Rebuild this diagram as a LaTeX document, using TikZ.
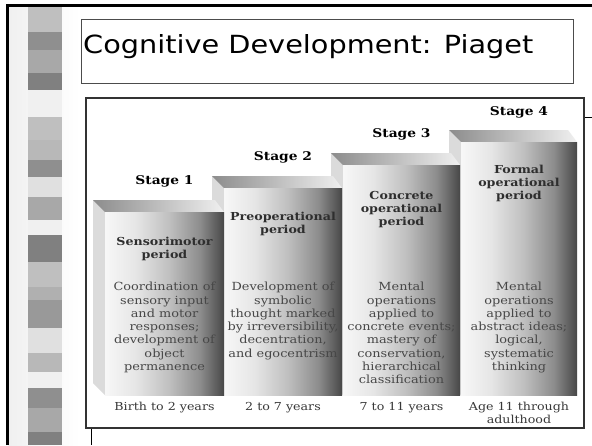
\documentclass[tikz,border=0pt]{standalone}
\usepackage{fontspec}
\setmainfont{DejaVu Serif}[FakeStretch=1.15]
\newfontfamily\titlefont{DejaVu Sans}[FakeStretch=1.15]
\usetikzlibrary{calc}
\colorlet{PillarLight}{black!3}
\colorlet{PillarDark}{black!72}
\colorlet{CapDark}{black!45}
\colorlet{CapLight}{black!6}
\colorlet{BevelFill}{black!14}
\colorlet{DescText}{black!72}
\colorlet{PeriodText}{black!82}
\colorlet{AgeText}{black!78}
\colorlet{FrameLine}{black!80}
\pgfdeclarehorizontalshading{pillarface}{100bp}{color(0bp)=(PillarLight); color(25bp)=(PillarLight);
  color(38bp)=(black!10); color(52bp)=(black!25); color(65bp)=(black!45); color(75bp)=(PillarDark);
  color(100bp)=(PillarDark)}

\tikzset{
  stagelabel/.style={font=\bfseries\fontsize{12}{14}\selectfont, inner sep=0pt},
  periodlabel/.style={font=\bfseries\fontsize{11}{13}\selectfont, text=PeriodText,
    align=center, anchor=north, inner sep=0pt},
  desclabel/.style={font=\fontsize{11.2}{13.3}\selectfont, text=DescText,
    align=center, anchor=north, inner sep=0pt},
  agelabel/.style={font=\fontsize{11}{13}\selectfont, text=AgeText,
    align=center, anchor=north, inner sep=0pt},
}

\begin{document}
\begin{tikzpicture}[x=1pt, y=-1pt]

    \useasboundingbox[fill=white] (0, 0) rectangle (592, 445);

    \def\pillarBottom{395}
    \def\depth{12}

    % ---------- Slide decoration

    \shade[left color=black!6, middle color=black!22, right color=white] (8, 6) rectangle (80, 445);
    \foreach \yA/\yB/\shadeLevel in {6/32/25, 32/50/44, 50/73/34, 73/90/50, 90/117/6,
        117/140/25, 140/160/28, 160/177/44, 177/197/12, 197/220/34, 220/235/6,
        235/262/50, 262/287/25, 287/300/31, 300/328/40, 328/353/12, 353/372/28,
        372/388/6, 388/408/44, 408/432/34, 432/445/50}
      \fill[black!\shadeLevel] (28, \yA) rectangle (62, \yB);
    \draw[line width=2.4pt] (7.5, 445) -- (7.5, 5.3) -- (592, 5.3);

    % Title box
    \draw[black!70, line width=0.8pt, fill=white] (81, 19) rectangle (573, 83);
    \node[font=\titlefont\fontsize{25}{30}\selectfont, anchor=base west, inner sep=0pt]
      (title) at (83, 53) {Cognitive Development: Piaget};

    % Picture frame
    \draw[black, line width=0.6pt] (584, 117.5) -- (592, 117.5);
    \draw[black, line width=0.6pt] (91.5, 428) -- (91.5, 445);
    \draw[FrameLine, line width=1.2pt, fill=white] (86, 98) rectangle (584, 428);

    % ---------- Stage 4

    \coordinate (sFourTL) at (461, 142);
    \coordinate (sFourBR) at (577, \pillarBottom);
    \coordinate (sFourTR) at (sFourBR |- sFourTL);
    \coordinate (sFourBL) at (sFourTL |- sFourBR);
    \fill[BevelFill] ($(sFourTL) + (-\depth, -\depth)$) -- (sFourTL) -- (sFourBL)
      -- ($(sFourBL) + (-\depth, -\depth)$) -- cycle;
    \shade[left color=CapDark, right color=CapLight] ($(sFourTL) + (-\depth, -\depth)$)
      -- ($(sFourTR) + (-9, -\depth)$) -- (sFourTR) -- (sFourTL) -- cycle;
    \shade[shading=pillarface] (sFourTL) rectangle (sFourBR);

    % ---------- Stage 3

    \coordinate (sThreeTL) at (343, 165);
    \coordinate (sThreeBR) at (460, \pillarBottom);
    \coordinate (sThreeTR) at (sThreeBR |- sThreeTL);
    \coordinate (sThreeBL) at (sThreeTL |- sThreeBR);
    \fill[BevelFill] ($(sThreeTL) + (-\depth, -\depth)$) -- (sThreeTL) -- (sThreeBL)
      -- ($(sThreeBL) + (-\depth, -\depth)$) -- cycle;
    \shade[left color=CapDark, right color=CapLight] ($(sThreeTL) + (-\depth, -\depth)$)
      -- ($(sThreeTR) + (-9, -\depth)$) -- (sThreeTR) -- (sThreeTL) -- cycle;
    \shade[shading=pillarface] (sThreeTL) rectangle (sThreeBR);

    % ---------- Stage 2

    \coordinate (sTwoTL) at (224, 188);
    \coordinate (sTwoBR) at (342, \pillarBottom);
    \coordinate (sTwoTR) at (sTwoBR |- sTwoTL);
    \coordinate (sTwoBL) at (sTwoTL |- sTwoBR);
    \fill[BevelFill] ($(sTwoTL) + (-\depth, -\depth)$) -- (sTwoTL) -- (sTwoBL)
      -- ($(sTwoBL) + (-\depth, -\depth)$) -- cycle;
    \shade[left color=CapDark, right color=CapLight] ($(sTwoTL) + (-\depth, -\depth)$)
      -- ($(sTwoTR) + (-9, -\depth)$) -- (sTwoTR) -- (sTwoTL) -- cycle;
    \shade[shading=pillarface] (sTwoTL) rectangle (sTwoBR);

    % ---------- Stage 1

    \coordinate (sOneTL) at (105, 212);
    \coordinate (sOneBR) at (224, \pillarBottom);
    \coordinate (sOneTR) at (sOneBR |- sOneTL);
    \coordinate (sOneBL) at (sOneTL |- sOneBR);
    \fill[BevelFill] ($(sOneTL) + (-\depth, -\depth)$) -- (sOneTL) -- (sOneBL)
      -- ($(sOneBL) + (-\depth, -\depth)$) -- cycle;
    \shade[left color=CapDark, right color=CapLight] ($(sOneTL) + (-\depth, -\depth)$)
      -- ($(sOneTR) + (-9, -\depth)$) -- (sOneTR) -- (sOneTL) -- cycle;
    \shade[shading=pillarface] (sOneTL) rectangle (sOneBR);

    % Show labels
    \node[stagelabel] (stageOne) at ($(sOneTL)!0.5!(sOneTR) + (0, -31)$) {Stage 1};
    \node[stagelabel] (stageTwo) at ($(sTwoTL)!0.5!(sTwoTR) + (0, -31)$) {Stage 2};
    \node[stagelabel] (stageThree) at ($(sThreeTL)!0.5!(sThreeTR) + (0, -31)$) {Stage 3};
    \node[stagelabel] (stageFour) at ($(sFourTL)!0.5!(sFourTR) + (0, -30)$) {Stage 4};

    \node[periodlabel] (periodOne) at ($(sOneTL)!0.5!(sOneTR) + (0, 25)$) {Sensorimotor\\period};
    \node[periodlabel] (periodTwo) at ($(sTwoTL)!0.5!(sTwoTR) + (0, 24)$) {Preoperational\\period};
    \node[periodlabel] (periodThree) at ($(sThreeTL)!0.5!(sThreeTR) + (0, 26)$) {Concrete\\operational\\period};
    \node[periodlabel] (periodFour) at ($(sFourTL)!0.5!(sFourTR) + (0, 23)$) {Formal\\operational\\period};

    \node[desclabel] (descOne) at ($(sOneBL)!0.5!(sOneBR) + (0, -113)$)
      {Coordination of\\sensory input\\and motor\\responses;\\development of\\object\\permanence};
    \node[desclabel] (descTwo) at ($(sTwoBL)!0.5!(sTwoBR) + (0, -113)$)
      {Development of\\symbolic\\thought marked\\by irreversibility,\\decentration,\\and egocentrism};
    \node[desclabel] (descThree) at ($(sThreeBL)!0.5!(sThreeBR) + (0, -113)$)
      {Mental\\operations\\applied to\\concrete events;\\mastery of\\conservation,\\hierarchical\\classification};
    \node[desclabel] (descFour) at ($(sFourBL)!0.5!(sFourBR) + (0, -113)$)
      {Mental\\operations\\applied to\\abstract ideas;\\logical,\\systematic\\thinking};

    \node[agelabel] (ageOne) at ($(sOneBL)!0.5!(sOneBR) + (0, 7)$) {Birth to 2 years};
    \node[agelabel] (ageTwo) at ($(sTwoBL)!0.5!(sTwoBR) + (0, 7)$) {2 to 7 years};
    \node[agelabel] (ageThree) at ($(sThreeBL)!0.5!(sThreeBR) + (0, 7)$) {7 to 11 years};
    \node[agelabel] (ageFour) at ($(sFourBL)!0.5!(sFourBR) + (0, 7)$) {Age 11 through\\adulthood};

\end{tikzpicture}
\end{document}
